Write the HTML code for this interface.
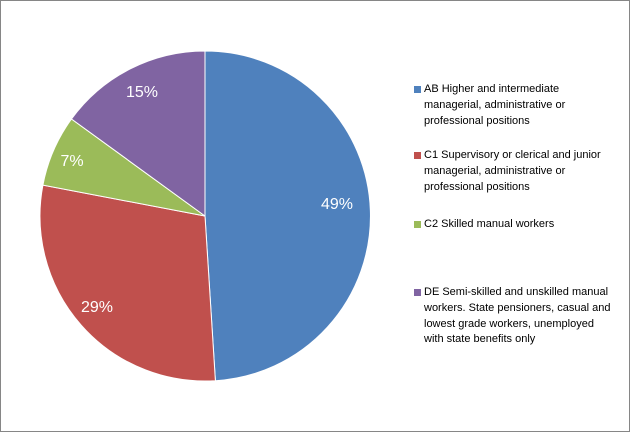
<!DOCTYPE html>
<html><head><style>
body{margin:0;width:630px;height:432px;background:#fff;overflow:hidden}
.frame{position:absolute;left:0;top:0;width:628px;height:430px;border:1px solid #868686}
.lg{position:absolute;left:424px;font:11px "Liberation Sans",sans-serif;line-height:15.8px;color:#000;white-space:nowrap}
.sq{position:absolute;left:-10px;top:4px;width:7px;height:7px}
</style></head><body>
<div class="frame"></div>
<svg width="630" height="432" style="position:absolute;left:0;top:0">
<g stroke="#fff" stroke-width="1">
<path d="M205,216 L205,51 A165,165 0 0 1 215.4,380.7 Z" fill="#4F81BD"/>
<path d="M205,216 L215.4,380.7 A165,165 0 0 1 42.9,185.1 Z" fill="#C0504D"/>
<path d="M205,216 L42.9,185.1 A165,165 0 0 1 71.5,119 Z" fill="#9BBB59"/>
<path d="M205,216 L71.5,119 A165,165 0 0 1 205,51 Z" fill="#8064A2"/>
</g>
<g fill="#fff" font-family="Liberation Sans,sans-serif" font-size="16" text-anchor="middle">
<text x="337" y="209">49%</text>
<text x="97" y="312">29%</text>
<text x="72" y="166">7%</text>
<text x="142" y="97">15%</text>
</g>
</svg>
<div class="lg" style="top:82px"><div class="sq" style="background:#4F81BD"></div>AB Higher and intermediate<br>managerial, administrative or<br>professional positions</div>
<div class="lg" style="top:148px"><div class="sq" style="background:#C0504D"></div>C1 Supervisory or clerical and junior<br>managerial, administrative or<br>professional positions</div>
<div class="lg" style="top:217px"><div class="sq" style="background:#9BBB59"></div>C2 Skilled manual workers</div>
<div class="lg" style="top:285px"><div class="sq" style="background:#8064A2"></div>DE Semi-skilled and unskilled manual<br>workers. State pensioners, casual and<br>lowest grade workers, unemployed<br>with state benefits only</div>
</body></html>
